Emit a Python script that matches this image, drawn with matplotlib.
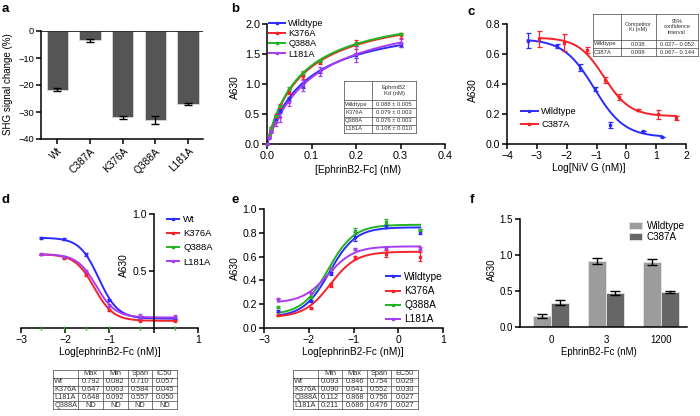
import numpy as np
import matplotlib
matplotlib.use("Agg")
import matplotlib.pyplot as plt
from matplotlib.transforms import Affine2D
from matplotlib.lines import Line2D

plt.rcParams['font.family'] = ['Liberation Sans', 'DejaVu Sans']
plt.rcParams['axes.unicode_minus'] = True

# ---------------- data ----------------
# panel a
a_labels = ['Wt', 'C387A', 'K376A', 'Q388A', 'L181A']
a_values = [-21.7, -3.5, -32.0, -32.9, -27.0]
a_errors = [0.6, 0.7, 0.6, 1.5, 0.5]

# panel b
b_names = ['Wildtype', 'K376A', 'Q388A', 'L181A']
b_x = [0, 0.005, 0.01, 0.02, 0.03, 0.05, 0.08, 0.12, 0.2, 0.3]
b_wt = [0, 0.12, 0.22, 0.40, 0.55, 0.75, 0.97, 1.21, 1.48, 1.65]
b_k376a = [0, 0.13, 0.26, 0.47, 0.63, 0.87, 1.14, 1.36, 1.66, 1.81]
b_q388a = [0, 0.14, 0.27, 0.47, 0.63, 0.92, 1.18, 1.38, 1.67, 1.83]
b_l181a = [0, 0.12, 0.22, 0.36, 0.45, 0.70, 0.98, 1.21, 1.50, 1.68]
b_wt_err = [0, 0.02, 0.02, 0.03, 0.03, 0.03, 0.04, 0.03, 0.04, 0.03]
b_k376a_err = [0, 0.02, 0.03, 0.03, 0.03, 0.04, 0.06, 0.03, 0.07, 0.04]
b_q388a_err = [0, 0.02, 0.02, 0.02, 0.02, 0.03, 0.03, 0.02, 0.03, 0.02]
b_l181a_err = [0, 0.03, 0.04, 0.06, 0.08, 0.07, 0.09, 0.07, 0.13, 0.07]
b_kd = [0.088, 0.079, 0.076, 0.108]
b_bmax = [2.13, 2.30, 2.30, 2.30]
b_table = [['', 'EphrinB2\nKd (nM)'],
           ['Wildtype', '0.088 ± 0.005'],
           ['K376A', '0.079 ± 0.003'],
           ['Q388A', '0.076 ± 0.003'],
           ['L181A', '0.108 ± 0.010']]

# panel c
c_names = ['Wildtype', 'C387A']
c_wt_x = [-3.31, -2.33, -1.55, -1.04, -0.54, 0.55, 1.19]
c_wt_y = [0.69, 0.655, 0.51, 0.365, 0.125, 0.087, 0.05]
c_wt_err = [0.05, 0.015, 0.025, 0.012, 0.02, 0.0, 0.0]
c_c387a_x = [-2.92, -2.10, -1.32, -0.71, -0.24, 0.38, 1.07, 1.67]
c_c387a_y = [0.70, 0.675, 0.625, 0.425, 0.315, 0.228, 0.20, 0.175]
c_c387a_err = [0.055, 0.055, 0.02, 0.02, 0.02, 0.006, 0.03, 0.015]
c_top = [0.70, 0.71]
c_bottom = [0.045, 0.185]
c_logic50 = [-1.08, -0.75]
c_hill = [0.85, 1.0]
c_table = [['', 'Competitor\nKi (nM)', '95%\nconfidence\ninterval'],
           ['Wildtype', '0.038', '0.027– 0.052'],
           ['C387A', '0.098', '0.067– 0.144']]

# panel d
d_names = ['Wt', 'K376A', 'Q388A', 'L181A']
d_x = [-2.55, -2.03, -1.52, -1.02, -0.30, 0.48]
d_wt = [0.79, 0.78, 0.645, 0.245, 0.095, 0.085]
d_k376a = [0.645, 0.615, 0.47, 0.155, 0.065, 0.063]
d_q388a = [0, 0, 0, 0, 0, 0]
d_l181a = [0.648, 0.625, 0.50, 0.195, 0.10, 0.095]
d_wt_err = [0.005, 0.012, 0.015, 0.01, 0.01, 0.008]
d_k376a_err = [0.005, 0.01, 0.015, 0.01, 0.005, 0.005]
d_l181a_err = [0.005, 0.01, 0.01, 0.015, 0.022, 0.015]
d_max = [0.792, 0.647, 0.648]
d_min = [0.082, 0.063, 0.092]
d_ic50 = [0.057, 0.045, 0.050]
d_hill = 2.0
d_table = [['', 'Max', 'Min', 'Span', 'IC50'],
           ['Wt', '0.792', '0.082', '0.710', '0.057'],
           ['K376A', '0.647', '0.063', '0.584', '0.045'],
           ['L181A', '0.648', '0.092', '0.557', '0.050'],
           ['Q388A', 'ND', 'ND', 'ND', 'ND']]

# panel e
e_names = ['Wildtype', 'K376A', 'Q388A', 'L181A']
e_x = [-2.69, -1.96, -1.50, -0.97, -0.27, 0.49]
e_wt = [0.14, 0.228, 0.458, 0.767, 0.851, 0.81]
e_k376a = [0.107, 0.169, 0.36, 0.593, 0.626, 0.60]
e_q388a = [0.177, 0.26, 0.50, 0.815, 0.893, 0.823]
e_l181a = [0.247, 0.298, 0.494, 0.663, 0.674, 0.668]
e_wt_err = [0.008, 0.01, 0.01, 0.04, 0.012, 0.02]
e_k376a_err = [0.005, 0.008, 0.015, 0.015, 0.03, 0.04]
e_q388a_err = [0.008, 0.008, 0.01, 0.025, 0.022, 0.01]
e_l181a_err = [0.005, 0.006, 0.008, 0.01, 0.01, 0.01]
e_min = [0.093, 0.090, 0.112, 0.211]
e_max = [0.846, 0.641, 0.868, 0.686]
e_ec50 = [0.029, 0.030, 0.027, 0.027]
e_hill = 1.5
e_table = [['', 'Min', 'Max', 'Span', 'EC50'],
           ['Wt', '0.093', '0.846', '0.754', '0.029'],
           ['K376A', '0.090', '0.641', '0.552', '0.030'],
           ['Q388A', '0.112', '0.868', '0.756', '0.027'],
           ['L181A', '0.211', '0.686', '0.476', '0.027']]

# panel f
f_groups = ['0', '3', '1200']
f_names = ['Wildtype', 'C387A']
f_wt = [0.15, 0.92, 0.90]
f_wt_err = [0.03, 0.04, 0.04]
f_c387a = [0.34, 0.47, 0.485]
f_c387a_err = [0.03, 0.03, 0.015]

# ---------------- style ----------------
BLUE = '#2b2bff'
RED = '#f5222a'
GREEN = '#22b322'
PURPLE = '#a83cf0'
MS = 1.8
W, H = 700, 416
fig = plt.figure(figsize=(7.0, 4.16), dpi=100)
PX = Affine2D().scale(1.0 / W, -1.0 / H).translate(0, 1) + fig.transFigure


def ax_px(l, t, r, b):
    return fig.add_axes([l / W, 1 - b / H, (r - l) / W, (b - t) / H])


def style(ax, fs):
    for s in ['top', 'right']:
        ax.spines[s].set_visible(False)
    for s in ['left', 'bottom']:
        ax.spines[s].set_linewidth(1.1)
    ax.tick_params(width=1.1, length=3.5, labelsize=fs, pad=1.5, direction='out')
    ax.patch.set_alpha(0)


def set_labels(ax, xl, xpos, yl, ypos, fs):
    if xl:
        ax.set_xlabel(xl, fontsize=fs)
        ax.xaxis.set_label_coords(xpos[0], xpos[1], transform=PX)
        ax.xaxis.label.set_va('center')
    if yl:
        ax.set_ylabel(yl, fontsize=fs)
        ax.yaxis.set_label_coords(ypos[0], ypos[1], transform=PX)
        ax.yaxis.label.set_va('center')
        ax.yaxis.label.set_ha('center')


def fmt(v):
    return ('%.1f' % v).replace('-', '\u2212')


# ---------------- panel a ----------------
ax = ax_px(41, 31, 203, 139)
style(ax, 6.7)
pos = np.arange(len(a_labels))
ax.bar(pos, a_values, width=0.65, color='#555555', edgecolor='#d8d8d8', linewidth=0.6, zorder=2)
ax.errorbar(pos, a_values, yerr=a_errors, fmt='none', ecolor='black', elinewidth=1.0, capsize=3, capthick=1.0, zorder=3)
ax.axhline(0, color='black', lw=1.1, zorder=4)
ax.set_ylim(-40, 0)
ax.set_xlim(-0.5, 4.46)
ax.set_yticks([0, -10, -20, -30, -40])
ax.set_yticklabels([str(v).replace('-', '\u2212') for v in [0, -10, -20, -30, -40]])
ax.set_xticks(pos)
ax.set_xticklabels(a_labels, rotation=45, ha='right', rotation_mode='anchor', fontsize=7.3)
set_labels(ax, None, None, 'SHG signal change (%)', (8, 84), 7.0)

# ---------------- panel b ----------------
ax = ax_px(267, 24, 445, 144)
style(ax, 7.8)
b_sets = [(b_wt, b_wt_err, BLUE), (b_k376a, b_k376a_err, RED), (b_q388a, b_q388a_err, GREEN), (b_l181a, b_l181a_err, PURPLE)]
xs = np.linspace(0, max(b_x), 200)
handles = []
for i, (ys, es, col) in enumerate(b_sets):
    ax.errorbar(b_x, ys, yerr=es, fmt='s', ms=MS, color=col, ecolor=col, elinewidth=0.9, capsize=1.6, capthick=0.9, zorder=3, clip_on=False)
    ax.plot(xs, b_bmax[i] * xs / (b_kd[i] + xs), color=col, lw=1.4, zorder=2, clip_on=False)
    handles.append(Line2D([], [], color=col, lw=1.4, marker='s', ms=MS))
ax.set_xlim(0, 0.4)
ax.set_ylim(0, 2.0)
ax.set_xticks([0, 0.1, 0.2, 0.3, 0.4])
ax.set_xticklabels([fmt(v) for v in [0, 0.1, 0.2, 0.3, 0.4]])
ax.set_yticks([0, 0.5, 1.0, 1.5, 2.0])
ax.set_yticklabels([fmt(v) for v in [0, 0.5, 1.0, 1.5, 2.0]])
set_labels(ax, '[EphrinB2-Fc] (nM)', (358, 170), 'A630', (235, 87), 7.3)
ax.legend(handles, b_names, loc='upper left', bbox_to_anchor=(269, 19), bbox_transform=PX,
          frameon=False, fontsize=6.6, handlelength=1.7, handletextpad=0.4, labelspacing=0.13,
          borderpad=0, borderaxespad=0, numpoints=1)

# ---------------- panel c ----------------
ax = ax_px(507, 24, 686, 144)
style(ax, 7.6)
xs_w = np.linspace(min(c_wt_x), max(c_wt_x), 200)
xs_c = np.linspace(min(c_c387a_x), max(c_c387a_x), 200)
c_sets = [(c_wt_x, c_wt_y, c_wt_err, BLUE, xs_w), (c_c387a_x, c_c387a_y, c_c387a_err, RED, xs_c)]
handles = []
for i, (xx, yy, ee, col, xs) in enumerate(c_sets):
    ax.errorbar(xx, yy, yerr=ee, fmt='s', ms=MS, color=col, ecolor=col, elinewidth=0.9, capsize=1.8, capthick=0.9, zorder=3)
    ax.plot(xs, c_bottom[i] + (c_top[i] - c_bottom[i]) / (1 + 10 ** ((xs - c_logic50[i]) * c_hill[i])), color=col, lw=1.4, zorder=2)
    handles.append(Line2D([], [], color=col, lw=1.4, marker='s', ms=MS))
ax.set_xlim(-4, 2)
ax.set_ylim(0, 0.8)
ax.set_xticks(range(-4, 3))
ax.set_xticklabels([str(v).replace('-', '\u2212') for v in range(-4, 3)])
ax.set_yticks([0, 0.2, 0.4, 0.6, 0.8])
ax.set_yticklabels([fmt(v) for v in [0, 0.2, 0.4, 0.6, 0.8]])
set_labels(ax, 'Log[NiV G (nM)]', (589, 168), 'A630', (473, 90), 7.3)
ax.legend(handles, c_names, loc='upper left', bbox_to_anchor=(521, 107), bbox_transform=PX,
          frameon=False, fontsize=6.7, handlelength=1.8, handletextpad=0.35, labelspacing=0.45,
          borderpad=0, borderaxespad=0, numpoints=1)

# ---------------- panel d ----------------
ax = ax_px(21, 214, 198, 328)
style(ax, 7.6)
ax.spines['left'].set_position(('data', 0))
xs = np.linspace(min(d_x), max(d_x), 200)
d_sets = [(d_wt, d_wt_err, BLUE, 0), (d_k376a, d_k376a_err, RED, 1), (d_l181a, d_l181a_err, PURPLE, 2)]
for ys, es, col, k in d_sets:
    ax.errorbar(d_x, ys, yerr=es, fmt='s', ms=MS, color=col, ecolor=col, elinewidth=0.9, capsize=1.6, capthick=0.9, zorder=3)
    ax.plot(xs, d_min[k] + (d_max[k] - d_min[k]) / (1 + 10 ** ((xs - np.log10(d_ic50[k])) * d_hill)), color=col, lw=1.4, zorder=2)
ax.plot(d_x, d_q388a, linestyle='none', marker='|', ms=3, mew=1.0, color=GREEN, zorder=5, clip_on=False)
ax.set_xlim(-3, 1)
ax.set_ylim(0, 1.0)
ax.set_xticks([-3, -2, -1, 0, 1])
ax.set_xticklabels(['\u22123', '\u22122', '\u22121', '', '1'])
ax.set_yticks([0.5, 1.0])
ax.set_yticklabels(['0.5', '1.0'])
set_labels(ax, 'Log[ephrinB2-Fc (nM)]', (110, 352), 'A630', (124, 265), 7.3)
handles = [Line2D([], [], color=c, lw=1.4, marker='s', ms=MS) for c in [BLUE, RED, GREEN, PURPLE]]
ax.legend(handles, d_names, loc='upper left', bbox_to_anchor=(167, 215), bbox_transform=PX,
          frameon=False, fontsize=6.8, handlelength=1.3, handletextpad=0.4, labelspacing=0.55,
          borderpad=0, borderaxespad=0, numpoints=1)

# ---------------- panel e ----------------
ax = ax_px(264, 209, 443, 328)
style(ax, 7.6)
xs = np.linspace(min(e_x), max(e_x), 200)
e_sets = [(e_wt, e_wt_err, BLUE), (e_k376a, e_k376a_err, RED), (e_q388a, e_q388a_err, GREEN), (e_l181a, e_l181a_err, PURPLE)]
handles = []
for k, (ys, es, col) in enumerate(e_sets):
    ax.errorbar(e_x, ys, yerr=es, fmt='s', ms=MS, color=col, ecolor=col, elinewidth=0.9, capsize=1.6, capthick=0.9, zorder=3)
    ax.plot(xs, e_min[k] + (e_max[k] - e_min[k]) / (1 + 10 ** ((np.log10(e_ec50[k]) - xs) * e_hill)), color=col, lw=1.4, zorder=2)
    handles.append(Line2D([], [], color=col, lw=1.4, marker='s', ms=MS))
ax.set_xlim(-3, 1)
ax.set_ylim(0, 1.0)
ax.set_xticks([-3, -2, -1, 0, 1])
ax.set_xticklabels([str(v).replace('-', '\u2212') for v in [-3, -2, -1, 0, 1]])
ax.set_yticks([0, 0.2, 0.4, 0.6, 0.8, 1.0])
ax.set_yticklabels([fmt(v) for v in [0, 0.2, 0.4, 0.6, 0.8, 1.0]])
set_labels(ax, 'Log[ephrinB2-Fc (nM)]', (353, 352), 'A630', (235, 268), 7.3)
ax.legend(handles, e_names, loc='upper left', bbox_to_anchor=(386, 272), bbox_transform=PX,
          frameon=False, fontsize=7.3, handlelength=1.4, handletextpad=0.4, labelspacing=0.4,
          borderpad=0, borderaxespad=0, numpoints=1)

# ---------------- panel f ----------------
ax = ax_px(520, 219, 687, 327)
style(ax, 7.0)
gp = np.arange(len(f_groups))
bw = 0.33
ax.bar(gp - bw / 2, f_wt, width=bw, color='#9c9c9c', edgecolor='#e6e6e6', linewidth=0.6, zorder=2, label=f_names[0])
ax.bar(gp + bw / 2, f_c387a, width=bw, color='#666666', edgecolor='#e6e6e6', linewidth=0.6, zorder=2, label=f_names[1])
ax.errorbar(gp - bw / 2, f_wt, yerr=f_wt_err, fmt='none', ecolor='black', elinewidth=1.0, capsize=3.5, capthick=1.0, zorder=3)
ax.errorbar(gp + bw / 2, f_c387a, yerr=f_c387a_err, fmt='none', ecolor='black', elinewidth=1.0, capsize=3.5, capthick=1.0, zorder=3)
ax.set_xlim(-0.56, 2.47)
ax.set_ylim(0, 1.5)
ax.set_xticks(gp)
ax.set_xticklabels(f_groups)
ax.tick_params(axis='x', length=0, pad=6)
ax.set_yticks([0, 0.5, 1.0, 1.5])
ax.set_yticklabels([fmt(v) for v in [0, 0.5, 1.0, 1.5]])
set_labels(ax, 'EphrinB2-Fc (nM)', (599, 352), 'A630', (492, 270), 6.9)
ax.legend(loc='upper left', bbox_to_anchor=(629, 221), bbox_transform=PX,
          frameon=False, fontsize=7.1, handlelength=1.3, handleheight=0.8, handletextpad=0.5,
          labelspacing=0.1, borderpad=0, borderaxespad=0)

# ---------------- tables / panel letters ----------------
ov = fig.add_axes([0, 0, 1, 1], zorder=10)
ov.set_xlim(0, W)
ov.set_ylim(H, 0)
ov.axis('off')
ov.patch.set_alpha(0)


def draw_table(left, top, colw, rowh, cells, fs, hfs=None):
    xe = np.concatenate([[left], left + np.cumsum(colw)])
    ye = np.concatenate([[top], top + np.cumsum(rowh)])
    ov.add_patch(plt.Rectangle((xe[0], ye[0]), xe[-1] - xe[0], ye[-1] - ye[0], facecolor='white', edgecolor='none', zorder=1))
    for x in xe:
        ov.plot([x, x], [ye[0], ye[-1]], color='#555555', lw=0.55, zorder=2)
    for y in ye:
        ov.plot([xe[0], xe[-1]], [y, y], color='#555555', lw=0.55, zorder=2)
    for r, row in enumerate(cells):
        f = hfs if (r == 0 and hfs) else fs
        for c, txt in enumerate(row):
            yc = (ye[r] + ye[r + 1]) / 2
            if c == 0:
                ov.text(xe[0] + 1.2, yc, txt, fontsize=f, ha='left', va='center', color='#333333', zorder=3)
            else:
                ov.text((xe[c] + xe[c + 1]) / 2, yc, txt, fontsize=f, ha='center', va='center', color='#333333',
                        linespacing=1.1, zorder=3)


draw_table(344, 81, [28, 44], [19, 8.25, 8.25, 8.25, 8.25], b_table, 4.2)
draw_table(593, 14, [28, 35, 42], [26, 8, 8], c_table, 4.2, 4.0)
draw_table(53, 370, [25, 25, 25, 24, 25], [7.8] * 5, d_table, 5.3)
draw_table(293, 370, [25, 24, 25, 24, 27], [7.8] * 5, e_table, 5.3)

for lbl, x, y in [('a', 2, 9), ('b', 231, 9), ('c', 468, 12), ('d', 2, 200), ('e', 231, 200), ('f', 470, 200)]:
    ov.text(x, y, lbl, fontsize=9.5, fontweight='bold', ha='left', va='center')

fig.savefig('out.png', dpi=100)
